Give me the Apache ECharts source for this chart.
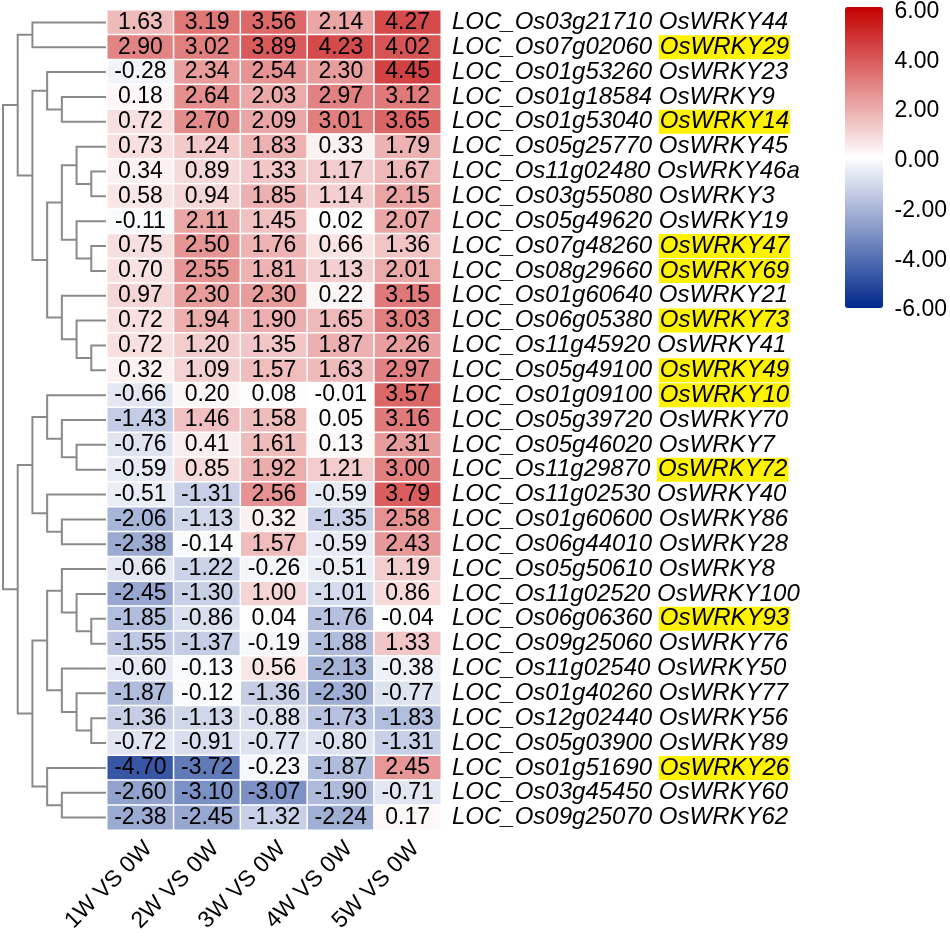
<!DOCTYPE html>
<html>
<head>
<meta charset="utf-8">
<script src="https://cdn.jsdelivr.net/npm/echarts@6/dist/echarts.min.js"></script>
<style>
html,body{margin:0;padding:0;background:#fff;}
#chart{width:950px;height:936px;}
</style>
</head>
<body>
<div id="chart"></div>
<script>
// ---- data ----
const columns = ['1W VS 0W', '2W VS 0W', '3W VS 0W', '4W VS 0W', '5W VS 0W'];
const locIds = [
  'LOC_Os03g21710','LOC_Os07g02060','LOC_Os01g53260','LOC_Os01g18584','LOC_Os01g53040',
  'LOC_Os05g25770','LOC_Os11g02480','LOC_Os03g55080','LOC_Os05g49620','LOC_Os07g48260',
  'LOC_Os08g29660','LOC_Os01g60640','LOC_Os06g05380','LOC_Os11g45920','LOC_Os05g49100',
  'LOC_Os01g09100','LOC_Os05g39720','LOC_Os05g46020','LOC_Os11g29870','LOC_Os11g02530',
  'LOC_Os01g60600','LOC_Os06g44010','LOC_Os05g50610','LOC_Os11g02520','LOC_Os06g06360',
  'LOC_Os09g25060','LOC_Os11g02540','LOC_Os01g40260','LOC_Os12g02440','LOC_Os05g03900',
  'LOC_Os01g51690','LOC_Os03g45450','LOC_Os09g25070'
];
const geneNames = [
  'OsWRKY44','OsWRKY29','OsWRKY23','OsWRKY9','OsWRKY14',
  'OsWRKY45','OsWRKY46a','OsWRKY3','OsWRKY19','OsWRKY47',
  'OsWRKY69','OsWRKY21','OsWRKY73','OsWRKY41','OsWRKY49',
  'OsWRKY10','OsWRKY70','OsWRKY7','OsWRKY72','OsWRKY40',
  'OsWRKY86','OsWRKY28','OsWRKY8','OsWRKY100','OsWRKY93',
  'OsWRKY76','OsWRKY50','OsWRKY77','OsWRKY56','OsWRKY89',
  'OsWRKY26','OsWRKY60','OsWRKY62'
];
const highlighted = ['OsWRKY29','OsWRKY14','OsWRKY47','OsWRKY69','OsWRKY73','OsWRKY49','OsWRKY10','OsWRKY72','OsWRKY93','OsWRKY26'];

const w1 = [1.63,2.90,-0.28,0.18,0.72,0.73,0.34,0.58,-0.11,0.75,0.70,0.97,0.72,0.72,0.32,-0.66,-1.43,-0.76,-0.59,-0.51,-2.06,-2.38,-0.66,-2.45,-1.85,-1.55,-0.60,-1.87,-1.36,-0.72,-4.70,-2.60,-2.38];
const w2 = [3.19,3.02,2.34,2.64,2.70,1.24,0.89,0.94,2.11,2.50,2.55,2.30,1.94,1.20,1.09,0.20,1.46,0.41,0.85,-1.31,-1.13,-0.14,-1.22,-1.30,-0.86,-1.37,-0.13,-0.12,-1.13,-0.91,-3.72,-3.10,-2.45];
const w3 = [3.56,3.89,2.54,2.03,2.09,1.83,1.33,1.85,1.45,1.76,1.81,2.30,1.90,1.35,1.57,0.08,1.58,1.61,1.92,2.56,0.32,1.57,-0.26,1.00,0.04,-0.19,0.56,-1.36,-0.88,-0.77,-0.23,-3.07,-1.32];
const w4 = [2.14,4.23,2.30,2.97,3.01,0.33,1.17,1.14,0.02,0.66,1.13,0.22,1.65,1.87,1.63,-0.01,0.05,0.13,1.21,-0.59,-1.35,-0.59,-0.51,-1.01,-1.76,-1.88,-2.13,-2.30,-1.73,-0.80,-1.87,-1.90,-2.24];
const w5 = [4.27,4.02,4.45,3.12,3.65,1.79,1.67,2.15,2.07,1.36,2.01,3.15,3.03,2.26,2.97,3.57,3.16,2.31,3.00,3.79,2.58,2.43,1.19,0.86,-0.04,1.33,-0.38,-0.77,-1.83,-1.31,2.45,-0.71,0.17];

const legendTicks = [-6, -4, -2, 0, 2, 4, 6];

// row dendrogram: [mergeHeight, left, right], leaves are row indices
const clusterA = [6, [5, 0, 1],
  [5, [4, 2, [3, 3, 4]],
      [4, [3, [2, 5, [1, 6, 7]], [2, 8, [1, 9, 10]]],
          [3, 11, [2, 12, [1, 13, 14]]]]]];
const clusterB = [6,
  [5, [4, 15, [3, 16, [2, 17, 18]]], [4, 19, [3, 20, 21]]],
  [5, [4, [3, 22, [2, 23, [1, 24, 25]]], [3, 26, [2, 27, [1, 28, 29]]]],
      [4, 30, [3, 31, 32]]]];
const tree = [7, clusterA, clusterB];

// ---- build ----
const valueCols = [w1, w2, w3, w4, w5];
const rowLabels = locIds.map((id, i) => id + '|' + geneNames[i]);
const heatData = [];
valueCols.forEach((col, c) => col.forEach((v, r) => heatData.push([c, r, v])));

const dendroLines = [];
function walk(node) {
  if (typeof node === 'number') return { x: 0, y: node };
  const l = walk(node[1]);
  const r = walk(node[2]);
  const h = node[0];
  dendroLines.push({ coords: [[l.x, l.y], [h, l.y], [h, r.y], [r.x, r.y]] });
  return { x: h, y: (l.y + r.y) / 2 };
}
walk(tree);

const FONT = '"Liberation Sans", Arial, sans-serif';

const chart = echarts.init(document.getElementById('chart'), null, { renderer: 'canvas' });
chart.setOption({
  backgroundColor: '#ffffff',
  animation: false,
  grid: [
    { left: 107, right: 509, top: 10, bottom: 106 },
    { left: 3, right: 844, top: 10, bottom: 106 },
    { left: 884, right: 65, top: 10, height: 300 }
  ],
  xAxis: [
    {
      type: 'category', gridIndex: 0, data: columns, position: 'bottom',
      axisLine: { show: false }, axisTick: { show: false }, splitLine: { show: false },
      axisLabel: { rotate: 45, fontSize: 23, color: '#000', fontFamily: FONT, margin: 7,
        interval: 0, verticalAlign: 'top' }
    },
    {
      type: 'value', gridIndex: 1, min: 0, max: 7, inverse: true, show: false
    },
    {
      type: 'value', gridIndex: 2, show: false
    }
  ],
  yAxis: [
    {
      type: 'category', gridIndex: 0, data: rowLabels, inverse: true, position: 'right',
      axisLine: { show: false }, axisTick: { show: false }, splitLine: { show: false },
      axisLabel: {
        interval: 0, margin: 11, fontFamily: FONT, fontSize: 24, fontStyle: 'italic', color: '#000',
        formatter: function (v) {
          const parts = v.split('|');
          const tag = highlighted.indexOf(parts[1]) >= 0 ? 'h' : 'n';
          return '{n|' + parts[0] + '} {' + tag + '|' + parts[1] + '}';
        },
        rich: {
          n: { fontFamily: FONT, fontSize: 24, fontStyle: 'italic', color: '#000' },
          h: { fontFamily: FONT, fontSize: 24, fontStyle: 'italic', color: '#000',
               backgroundColor: '#fff200', padding: [0, 1, 0, 1], lineHeight: 22 }
        }
      }
    },
    {
      type: 'value', gridIndex: 1, min: -0.5, max: 32.5, inverse: true, show: false
    },
    {
      type: 'value', gridIndex: 2, min: -6, max: 6, interval: 2, position: 'right',
      axisLine: { show: false }, axisTick: { show: false }, splitLine: { show: false },
      axisLabel: { margin: 10, fontSize: 23, color: '#000', fontFamily: FONT,
        formatter: v => v.toFixed(2), customValues: legendTicks }
    }
  ],
  visualMap: {
    type: 'continuous', min: -6, max: 6, calculable: false, orient: 'vertical',
    left: 845, top: 7, itemWidth: 38, itemHeight: 301, padding: 0,
    seriesIndex: 0, hoverLink: false, text: null, showLabel: false,
    inRange: { color: ['#00288c', '#ffffff', '#c40000'] }
  },
  series: [
    {
      type: 'heatmap', xAxisIndex: 0, yAxisIndex: 0, data: heatData,
      itemStyle: { borderColor: '#ffffff', borderWidth: 1.5 },
      label: { show: true, color: '#000', fontSize: 23, fontFamily: FONT,
        formatter: p => p.data[2].toFixed(2) },
      emphasis: { disabled: true }
    },
    {
      type: 'lines', coordinateSystem: 'cartesian2d', xAxisIndex: 1, yAxisIndex: 1,
      polyline: true, data: dendroLines, silent: true,
      lineStyle: { color: '#8a8a8a', width: 2, opacity: 1 }
    }
  ]
});
</script>
</body>
</html>
